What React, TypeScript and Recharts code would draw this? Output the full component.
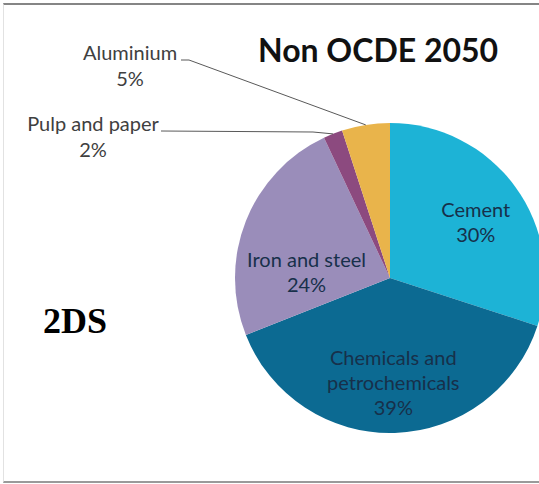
import { PieChart, Pie, Cell } from "recharts";

const sectors = ["Cement", "Chemicals and petrochemicals", "Iron and steel", "Pulp and paper", "Aluminium"];
const shares = [30, 39, 24, 2, 5];
const colors = ["#1db3d6", "#0c6a92", "#9a8dba", "#8c4a7f", "#e9b44b"];
const labelLines: Record<string, string[]> = {
  Cement: ["Cement"],
  "Chemicals and petrochemicals": ["Chemicals and", "petrochemicals"],
  "Iron and steel": ["Iron and steel"],
  "Pulp and paper": ["Pulp and paper"],
  Aluminium: ["Aluminium"],
};

const rows = sectors.map((name, i) => ({ name, value: shares[i] }));

// where excel left the labels: inside ones by polar nudge, callouts by text anchor + leader path
const insideNudge: Record<string, { angle?: number; r: number }> = {
  Cement: { angle: 33, r: 0.66 },
  "Chemicals and petrochemicals": { r: 0.68 },
  "Iron and steel": { angle: 176, r: 0.54 },
};
const callouts: Record<string, { x: number; y: number; from: [number, number]; elbow: [number, number] }> = {
  Aluminium: { x: 130, y: 60, from: [181, 60], elbow: [189, 60] },
  "Pulp and paper": { x: 93, y: 131, from: [161, 131], elbow: [313, 132] },
};

const RAD = Math.PI / 180;
const FONT = "Lato, 'Noto Sans', sans-serif";
const LINE = 25;

function renderLabel(props: any) {
  const { cx, cy, midAngle, outerRadius, name, value } = props;
  const lines = [...labelLines[name], `${value}%`];
  const call = callouts[name];
  if (call) {
    const ex = cx + outerRadius * Math.cos(-midAngle * RAD);
    const ey = cy + outerRadius * Math.sin(-midAngle * RAD);
    return (
      <g key={name}>
        <polyline
          points={`${call.from[0]},${call.from[1]} ${call.elbow[0]},${call.elbow[1]} ${ex},${ey}`}
          fill="none"
          stroke="#595959"
          strokeWidth={1}
        />
        <text x={call.x} y={call.y} textAnchor="middle" fill="#404040" fontSize={20} fontFamily={FONT}>
          {lines.map((l, i) => (
            <tspan key={i} x={call.x} dy={i === 0 ? 0 : LINE + 1}>
              {l}
            </tspan>
          ))}
        </text>
      </g>
    );
  }
  const nudge = insideNudge[name];
  const ang = nudge.angle ?? midAngle;
  const x = cx + nudge.r * outerRadius * Math.cos(-ang * RAD);
  const y = cy + nudge.r * outerRadius * Math.sin(-ang * RAD);
  const first = y - ((lines.length - 1) * LINE) / 2 + 7;
  return (
    <text key={name} x={x} y={first} textAnchor="middle" fill="#17304a" fontSize={20} fontFamily={FONT}>
      {lines.map((l, i) => (
        <tspan key={i} x={x} dy={i === 0 ? 0 : LINE}>
          {l}
        </tspan>
      ))}
    </text>
  );
}

export default function App() {
  return (
    <div style={{ position: "absolute", left: 0, top: 0, width: 539, height: 484, background: "#fff", overflow: "hidden" }}>
      <div
        style={{
          position: "absolute",
          left: 3,
          top: 3,
          width: 560,
          height: 476,
          borderTop: "2px solid #858585",
          borderLeft: "1px solid #e2e2e2",
          borderBottom: "2px solid #9a9a9a",
        }}
      />
      <PieChart width={539} height={484} margin={{ top: 0, right: 0, bottom: 0, left: 0 }} style={{ position: "absolute", left: 0, top: 0 }}>
        <Pie
          data={rows}
          dataKey="value"
          nameKey="name"
          cx={390}
          cy={278}
          outerRadius={155}
          startAngle={90}
          endAngle={-270}
          stroke="none"
          label={renderLabel}
          labelLine={false}
          isAnimationActive={false}
        >
          {rows.map((r, i) => (
            <Cell key={r.name} fill={colors[i]} />
          ))}
        </Pie>
      </PieChart>
      <svg width={539} height={484} style={{ position: "absolute", left: 0, top: 0, pointerEvents: "none" }}>
        <text x={258} y={62} fontFamily={FONT} fontWeight={700} fontSize={32} fill="#111">
          Non OCDE 2050
        </text>
        <text x={43} y={333} fontFamily="'Liberation Serif', 'DejaVu Serif', serif" fontWeight={700} fontSize={36} fill="#000">
          2DS
        </text>
      </svg>
    </div>
  );
}
